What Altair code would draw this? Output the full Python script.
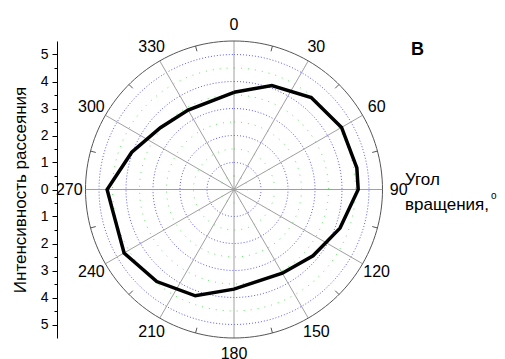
import altair as alt
import pandas as pd

# ---- data ----
angles = [0, 20, 40, 60, 80, 90, 110, 130, 150, 180, 200, 220, 240, 260, 270, 290, 310, 330]
intensity = [3.6, 4.1, 4.45, 4.6, 4.62, 4.6, 4.18, 3.82, 3.58, 3.69, 4.19, 4.45, 4.7, 4.56, 4.7, 4.03, 3.56, 3.4]

grid_major = [1, 2, 3, 4, 5]
grid_minor = [0.5, 1.5, 2.5, 3.5, 4.5]
outer_r = [5.5]
spoke_angles = [0, 30, 60, 90, 120, 150, 180, 210, 240, 270, 300, 330]
minor_tick_angles = [15, 45, 75, 105, 135, 165, 195, 225, 255, 285, 315, 345]
angle_labels = ["0", "30", "60", "90", "120", "150", "180", "210", "240", "270", "300", "330"]
y_tick_values = [-5, -4.5, -4, -3.5, -3, -2.5, -2, -1.5, -1, -0.5, 0,
                 0.5, 1, 1.5, 2, 2.5, 3, 3.5, 4, 4.5, 5]

# ---- tables ----
curve = pd.DataFrame({"a": angles + [angles[0] + 360], "r": intensity + [intensity[0]]})
curve["o"] = range(len(curve))

def circles(radii):
    rows = [{"r": r, "a": a} for r in radii for a in range(0, 361, 2)]
    return pd.DataFrame(rows)

spokes = pd.DataFrame({"a": spoke_angles, "r0": 0.0, "r1": 5.5})
mticks = pd.DataFrame({"a": minor_tick_angles, "r0": 5.3, "r1": 5.5})
labels = pd.DataFrame({"a": spoke_angles, "t": angle_labels, "r": 6.1})

xscale = alt.Scale(domain=[-177 / 27, -177 / 27 + 440 / 27], nice=False, zero=False)
yscale = alt.Scale(domain=[-5.5, 5.5], nice=False, zero=False)

yaxis = alt.Axis(
    values=y_tick_values,
    labelExpr="datum.value % 1 === 0 ? abs(datum.value) : ''",
    title="Интенсивность рассеяния",
    titleFontSize=17, titleFontWeight="normal", titleColor="#000",
    titleX=-37, titleY=148.5, titleAngle=270, titleAlign="center", titleBaseline="middle",
    labelFontSize=14, labelColor="#000", labelPadding=4,
    domainColor="#000", tickColor="#000",
    tickSize={"condition": {"test": "datum.value % 1 === 0", "value": 5}, "value": 3},
    grid=False,
)

X = lambda f="x": alt.X(f"{f}:Q", scale=xscale, axis=None)
Y = lambda f="y": alt.Y(f"{f}:Q", scale=yscale, axis=yaxis)

def pol(ch, r="r", x="x", y="y"):
    return ch.transform_calculate(
        **{x: f"datum.{r}*sin(datum.a*PI/180)", y: f"datum.{r}*cos(datum.a*PI/180)"}
    )

minor_c = pol(alt.Chart(circles(grid_minor)).mark_line(
    color="#22dd22", strokeWidth=1, strokeDash=[1, 6], opacity=0.7
)).encode(x=X(), y=Y(), detail="r:N", order="a:Q")

major_c = pol(alt.Chart(circles(grid_major)).mark_line(
    color="#2222ff", strokeWidth=1, strokeDash=[1, 2], opacity=0.75
)).encode(x=X(), y=Y(), detail="r:N", order="a:Q")

spk = pol(pol(alt.Chart(spokes), r="r0"), r="r1", x="x2", y="y2").mark_rule(
    color="#a0a0a0", strokeWidth=1
).encode(x=X(), y=Y(), x2="x2:Q", y2="y2:Q")

outer = pol(alt.Chart(circles(outer_r)).mark_line(
    color="#555555", strokeWidth=1
)).encode(x=X(), y=Y(), detail="r:N", order="a:Q")

mtk = pol(pol(alt.Chart(mticks), r="r0"), r="r1", x="x2", y="y2").mark_rule(
    color="#555555", strokeWidth=1
).encode(x=X(), y=Y(), x2="x2:Q", y2="y2:Q")

line = pol(alt.Chart(curve)).mark_line(
    color="#000", strokeWidth=3.5, strokeJoin="miter"
).encode(x=X(), y=Y(), order="o:Q")

lab = pol(alt.Chart(labels)).mark_text(
    fontSize=16, color="#000", align="center", baseline="middle"
).encode(x=X(), y=Y(), text="t:N")

one = alt.Data(values=[{"k": 1}])
t1 = alt.Chart(one).mark_text(fontSize=17, align="left", baseline="middle", color="#000").encode(
    x=alt.value(348), y=alt.value(139), text=alt.value("Угол"))
t2 = alt.Chart(one).mark_text(fontSize=17, align="left", baseline="middle", color="#000").encode(
    x=alt.value(348), y=alt.value(164), text=alt.value("вращения,"))
t3 = alt.Chart(one).mark_text(fontSize=10, align="left", baseline="middle", color="#000").encode(
    x=alt.value(434), y=alt.value(155), text=alt.value("o"))
t4 = alt.Chart(one).mark_text(fontSize=18, fontWeight="bold", align="center", baseline="middle", color="#000").encode(
    x=alt.value(360.5), y=alt.value(9), text=alt.value("В"))

chart = alt.layer(minor_c, major_c, spk, outer, mtk, line, lab, t1, t2, t3, t4).properties(
    width=440, height=297,
    autosize=alt.AutoSizeParams(type="none"),
    padding={"left": 49, "top": 33, "right": 0, "bottom": 21},
).configure(font="Liberation Sans").configure_view(stroke=None)

chart.save("out.html", embed_options={"renderer": "svg", "actions": False})
